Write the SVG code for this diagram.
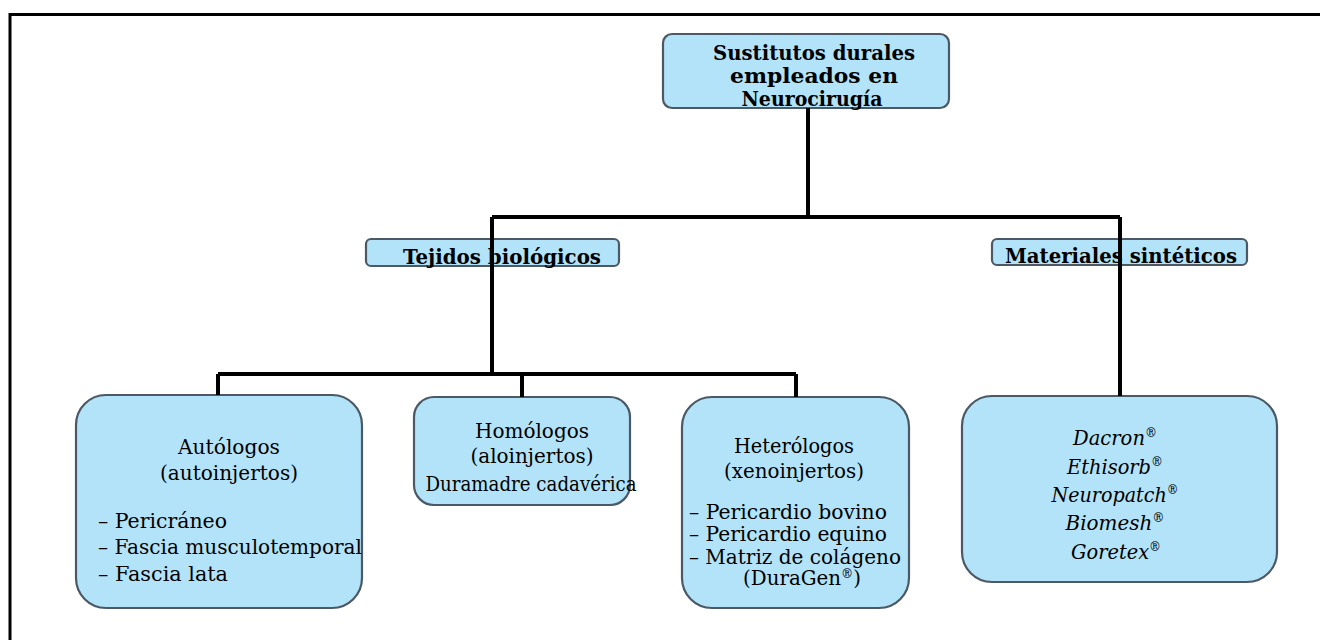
<svg xmlns="http://www.w3.org/2000/svg" width="1320" height="640" viewBox="0 0 1320 640">
<style>
.box{fill:#b3e3f8;stroke:#4b5966;stroke-width:2.2}
.b{font-family:"DejaVu Serif","Liberation Serif",serif;font-weight:bold;font-size:20px;fill:#000;text-anchor:middle}
.r{font-family:"DejaVu Serif","Liberation Serif",serif;font-size:19.5px;fill:#000}
.i{font-family:"DejaVu Serif","Liberation Serif",serif;font-style:italic;font-size:19.5px;fill:#000;text-anchor:middle}
.c{text-anchor:middle}
.sup{font-style:normal;font-size:12px}
.conn{fill:none;stroke:#000;stroke-width:4}
.frame{fill:none;stroke:#000;stroke-width:3}
</style>
<rect width="1320" height="640" fill="#fff"/>
<path class="frame" d="M10 640 V14.5 H1320"/>

<g id="root">
<rect class="box" x="663" y="34" width="286" height="74" rx="9"/>
<text class="b" x="814" y="60" textLength="202" lengthAdjust="spacingAndGlyphs">Sustitutos durales</text>
<text class="b" x="814" y="83" textLength="168" lengthAdjust="spacingAndGlyphs">empleados en</text>
<text class="b" x="812" y="106" textLength="141" lengthAdjust="spacingAndGlyphs">Neurocirugía</text>
</g>

<g id="tejidos">
<rect class="box" x="366" y="239" width="253" height="27" rx="5"/>
<text class="b" x="502" y="264" textLength="198" lengthAdjust="spacingAndGlyphs">Tejidos biológicos</text>
</g>

<g id="sinteticos">
<rect class="box" x="992" y="239" width="255" height="26" rx="5"/>
<text class="b" x="1121" y="263" textLength="232" lengthAdjust="spacingAndGlyphs">Materiales sintéticos</text>
</g>

<g id="autologos">
<rect class="box" x="76" y="395" width="286" height="213" rx="30"/>
<text class="r c" x="229" y="454" textLength="102" lengthAdjust="spacingAndGlyphs">Autólogos</text>
<text class="r c" x="229" y="480" textLength="138" lengthAdjust="spacingAndGlyphs">(autoinjertos)</text>
<text class="r" x="98" y="528" textLength="129" lengthAdjust="spacingAndGlyphs">– Pericráneo</text>
<text class="r" x="98" y="554" textLength="264" lengthAdjust="spacingAndGlyphs">– Fascia musculotemporal</text>
<text class="r" x="98" y="581" textLength="130" lengthAdjust="spacingAndGlyphs">– Fascia lata</text>
</g>

<g id="homologos">
<rect class="box" x="414" y="397" width="216" height="108" rx="20"/>
<text class="r c" x="532" y="438" textLength="114" lengthAdjust="spacingAndGlyphs">Homólogos</text>
<text class="r c" x="532" y="463" textLength="123" lengthAdjust="spacingAndGlyphs">(aloinjertos)</text>
<text class="r c" x="531" y="491" textLength="211" lengthAdjust="spacingAndGlyphs">Duramadre cadavérica</text>
</g>

<g id="heterologos">
<rect class="box" x="682" y="397" width="227" height="211" rx="30"/>
<text class="r c" x="794" y="453" textLength="120" lengthAdjust="spacingAndGlyphs">Heterólogos</text>
<text class="r c" x="794" y="478" textLength="140" lengthAdjust="spacingAndGlyphs">(xenoinjertos)</text>
<text class="r" x="689" y="519" textLength="198" lengthAdjust="spacingAndGlyphs">– Pericardio bovino</text>
<text class="r" x="689" y="541" textLength="198" lengthAdjust="spacingAndGlyphs">– Pericardio equino</text>
<text class="r" x="689" y="564" textLength="212" lengthAdjust="spacingAndGlyphs">– Matriz de colágeno</text>
<text class="r" x="743" y="585" textLength="118" lengthAdjust="spacingAndGlyphs">(DuraGen<tspan class="sup" dy="-7">®</tspan><tspan dy="7">)</tspan></text>
</g>

<g id="sinteticos-lista">
<rect class="box" x="962" y="396" width="315" height="186" rx="30"/>
<text class="i" x="1115" y="445" textLength="84" lengthAdjust="spacingAndGlyphs">Dacron<tspan class="sup" dy="-8">®</tspan></text>
<text class="i" x="1115" y="474" textLength="96" lengthAdjust="spacingAndGlyphs">Ethisorb<tspan class="sup" dy="-8">®</tspan></text>
<text class="i" x="1115" y="502" textLength="127" lengthAdjust="spacingAndGlyphs">Neuropatch<tspan class="sup" dy="-8">®</tspan></text>
<text class="i" x="1115" y="530" textLength="99" lengthAdjust="spacingAndGlyphs">Biomesh<tspan class="sup" dy="-8">®</tspan></text>
<text class="i" x="1116" y="559" textLength="90" lengthAdjust="spacingAndGlyphs">Goretex<tspan class="sup" dy="-8">®</tspan></text>
</g>

<g id="connectors">
<path class="conn" d="M808 108 V217"/>
<path class="conn" d="M492 217 H1120"/>
<path class="conn" d="M492 217 V374"/>
<path class="conn" d="M1120 217 V396"/>
<path class="conn" d="M218 374 H796"/>
<path class="conn" d="M218 374 V395"/>
<path class="conn" d="M522 374 V397"/>
<path class="conn" d="M796 374 V397"/>
</g>
</svg>
